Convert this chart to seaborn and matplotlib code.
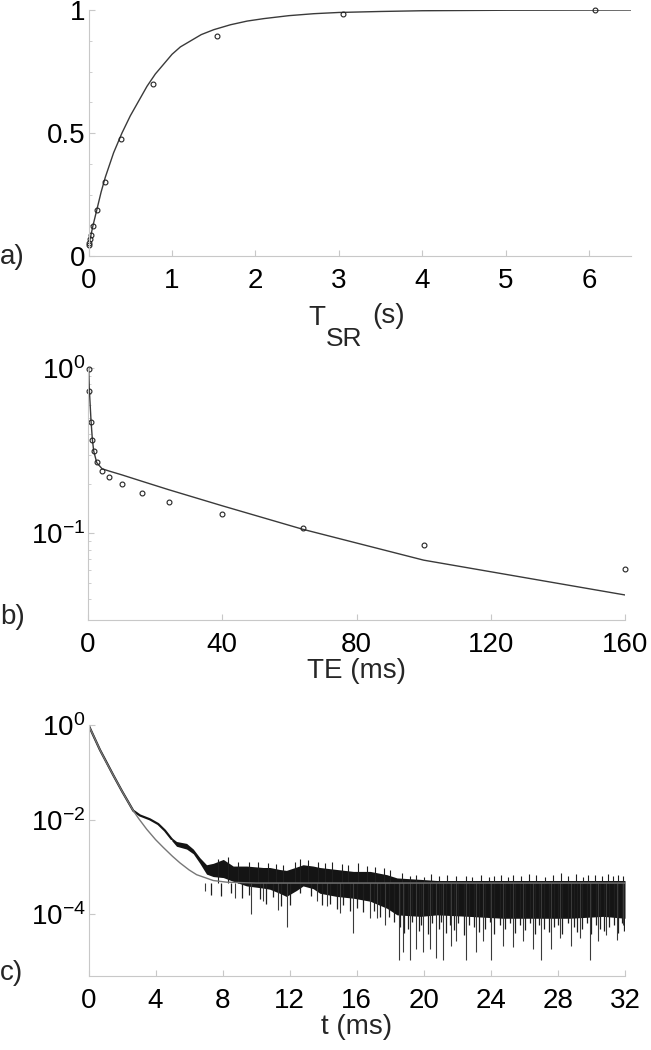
import numpy as np
import matplotlib
matplotlib.use("Agg")
import matplotlib.pyplot as plt
from matplotlib.ticker import MultipleLocator, LogLocator, NullFormatter, NullLocator, FixedLocator
import seaborn as sns

# ---------------- data ----------------
# panel a: saturation recovery
tsr_pts = [0.003, 0.006, 0.012, 0.024, 0.048, 0.096, 0.192, 0.384, 0.768, 1.536, 3.05, 6.07]
sig_a_pts = [0.045, 0.054, 0.068, 0.085, 0.122, 0.188, 0.30, 0.474, 0.698, 0.894, 0.985, 1.0]
tsr_fit = [0.0, 0.025, 0.05, 0.1, 0.15, 0.2, 0.3, 0.4, 0.5, 0.6, 0.7, 0.8, 0.9, 1.0, 1.1, 1.2, 1.35,
           1.5, 1.7, 1.9, 2.1, 2.4, 2.7, 3.0, 3.5, 4.0, 5.0, 6.5]
sig_a_fit = [0.04, 0.08, 0.12, 0.19, 0.26, 0.32, 0.42, 0.50, 0.57, 0.63, 0.69, 0.74, 0.78, 0.82, 0.85,
             0.87, 0.90, 0.92, 0.94, 0.955, 0.965, 0.977, 0.985, 0.99, 0.994, 0.997, 0.999, 1.0]

# panel b: echo decay
te_pts = [0.2, 0.4, 0.9, 1.3, 1.7, 2.6, 4.2, 6.4, 10.1, 16, 24, 40, 64, 100, 160]
sig_b_pts = [0.99, 0.73, 0.473, 0.365, 0.314, 0.269, 0.24, 0.219, 0.198, 0.175, 0.156, 0.132, 0.108, 0.085, 0.0614]
sig_b_fit = [1.0, 0.74, 0.48, 0.37, 0.315, 0.268, 0.246, 0.238, 0.226, 0.207, 0.184, 0.147, 0.106, 0.069, 0.0425]

# panel c: FID signal and fit
t_fit = [0.0, 0.3, 0.68, 1.0, 1.48, 2.0, 2.3, 2.67, 3.0, 3.47, 4.0, 4.46, 5.0, 5.45, 6.0, 6.45, 7.0, 7.44, 8.24, 10, 16, 24, 32]
c_fit = [1.0, 0.59, 0.30, 0.18, 0.087, 0.040, 0.026, 0.0155, 0.0105, 6.3e-3, 3.8e-3, 2.6e-3, 1.7e-3,
         1.23e-3, 8.7e-4, 6.9e-4, 5.9e-4, 5.2e-4, 4.8e-4, 4.6e-4, 4.6e-4, 4.6e-4, 4.6e-4]
t_sig = [0.0, 0.68, 1.48, 2.0, 2.67, 3.07, 3.66, 4.16, 4.56, 4.96]
c_sig = [1.0, 0.30, 0.087, 0.040, 0.0155, 0.0123, 0.0102, 8.1e-3, 5.9e-3, 3.9e-3]
t_band = [4.96, 5.25, 5.85, 6.25, 6.64, 7.04, 7.44, 8.04, 8.63, 9.43, 10.42, 10.82, 11.4, 11.8, 12.4, 12.8,
          13.4, 13.8, 14.8, 15.8, 16.8, 17.8, 18.4, 19.8, 20.8, 22.7, 24.7, 26.7, 28.7, 30.7, 32.0]
band_hi = [4.17e-3, 3.47e-3, 3.16e-3, 2.40e-3, 1.58e-3, 1.12e-3, 1.20e-3, 1.45e-3, 1.05e-3, 1.05e-3, 9.8e-4,
           9.8e-4, 8.9e-4, 8.5e-4, 1.0e-3, 1.12e-3, 1.05e-3, 9.8e-4, 8.9e-4, 8.1e-4, 8.1e-4, 6.9e-4, 5.9e-4,
           5.5e-4, 5.2e-4, 5.2e-4, 5.2e-4, 5.2e-4, 5.2e-4, 5.2e-4, 5.2e-4]
band_lo = [3.63e-3, 2.75e-3, 2.40e-3, 1.91e-3, 1.20e-3, 7.1e-4, 6.3e-4, 6.0e-4, 5.0e-4, 4.0e-4, 3.6e-4,
           3.4e-4, 2.8e-4, 2.4e-4, 3.2e-4, 4.0e-4, 3.5e-4, 2.8e-4, 2.4e-4, 2.2e-4, 1.9e-4, 1.35e-4, 9.8e-5,
           9.1e-5, 9.8e-5, 9.1e-5, 8.3e-5, 8.3e-5, 8.3e-5, 9.1e-5, 8.3e-5]
# deep downward noise spikes
t_spk_dn = [6.94, 8.73, 9.72, 10.42, 11.31, 11.81, 13.6, 14.2, 15.0, 15.8, 16.77, 17.2, 17.7,
            18.5, 18.76, 19.16, 19.56, 19.95, 20.35, 20.75, 21.15, 21.64, 21.94, 22.54, 23.14, 23.53,
            24.03, 24.72, 25.32, 25.91, 26.51, 27.0, 27.6, 28.1, 28.8, 29.3, 29.9, 30.4, 30.88, 31.5, 31.87]
c_spk_dn = [3.1e-4, 2.2e-4, 1.0e-4, 1.9e-4, 1.26e-4, 5.5e-5, 1.9e-4, 1.5e-4, 1.07e-4, 4.0e-5, 8.3e-5,
            8.3e-5, 6.0e-5, 1.07e-5, 1.6e-5, 1.07e-5, 1.9e-5, 1.6e-5, 1.9e-5, 1.2e-5, 1.07e-5, 2.2e-5,
            2.7e-5, 1.07e-5, 1.6e-5, 2.7e-5, 1.07e-5, 2.2e-5, 2.1e-5, 2.7e-5, 1.9e-5, 1.07e-5, 1.9e-5,
            3.2e-5, 2.2e-5, 3.2e-5, 1.07e-5, 2.7e-5, 3.7e-5, 2.9e-5, 6.0e-5]
# shallower downward noise spikes
t_spk_mid = [7.3, 7.9, 8.5, 9.15, 9.55, 10.2, 10.6, 11.0, 11.5, 12.0, 12.6, 13.3, 13.9, 14.4, 14.8, 15.2,
             15.6, 16.0, 16.4, 17.0, 17.4, 17.9, 18.2, 18.6, 18.8, 19.05, 19.3, 19.7, 19.85, 20.25, 20.5,
             20.9, 21.05, 21.3, 21.55, 21.8, 22.05, 22.4, 22.7, 23.0, 23.3, 23.65, 23.95, 24.2, 24.55,
             24.85, 25.15, 25.45, 25.75, 26.05, 26.35, 26.65, 26.9, 27.15, 27.45, 27.75, 28.0, 28.25,
             28.6, 28.95, 29.15, 29.45, 29.75, 30.0, 30.25, 30.5, 30.75, 31.05, 31.35, 31.6, 31.8, 31.95]
c_spk_mid = [2.6e-4, 2.4e-4, 2.9e-4, 2.2e-4, 2.6e-4, 2.1e-4, 1.7e-4, 2.3e-4, 1.5e-4, 1.6e-4, 2.8e-4,
             2.5e-4, 1.6e-4, 1.7e-4, 1.3e-4, 1.6e-4, 1.2e-4, 1.4e-4, 1.1e-4, 1.2e-4, 9e-5, 9e-5, 7e-5,
             5.5e-5, 4e-5, 5e-5, 7e-5, 4.5e-5, 6e-5, 3.8e-5, 6.5e-5, 5e-5, 7e-5, 4e-5, 6e-5, 4.8e-5,
             6.5e-5, 3.6e-5, 6e-5, 5.5e-5, 4.2e-5, 5e-5, 7e-5, 3.8e-5, 6e-5, 5e-5, 6.5e-5, 4e-5, 6e-5,
             4.8e-5, 6.5e-5, 3.8e-5, 6e-5, 5e-5, 4.2e-5, 5.5e-5, 6e-5, 3.9e-5, 6.5e-5, 5.5e-5, 4.3e-5, 5e-5,
             6.5e-5, 3.8e-5, 6e-5, 5e-5, 4.4e-5, 5.5e-5, 6e-5, 4e-5, 6.5e-5, 4.5e-5]
# upward noise spikes
t_spk_up = [7.7, 8.3, 8.9, 9.6, 10.1, 10.7, 11.2, 11.6, 12.3, 12.6, 13.1, 13.7, 14.1, 14.5, 15.1, 15.5,
            16.1, 16.6, 17.1, 17.6, 18.0, 18.7, 19.2, 19.56, 20.0, 20.4, 20.9, 21.4, 21.9, 22.5, 22.9,
            23.4, 23.9, 24.2, 24.6, 25.0, 25.3, 25.8, 26.3, 26.7, 27.2, 27.7, 28.2, 28.6, 29.1, 29.5,
            29.8, 30.2, 30.6, 31.0, 31.3, 31.6, 31.9]
c_spk_up = [1.5e-3, 1.6e-3, 1.3e-3, 1.25e-3, 1.3e-3, 1.2e-3, 1.15e-3, 1.1e-3, 1.3e-3, 1.45e-3, 1.4e-3,
            1.3e-3, 1.2e-3, 1.25e-3, 1.15e-3, 1.1e-3, 1.2e-3, 1.05e-3, 1.0e-3, 9.5e-4, 8.5e-4, 7.5e-4,
            6.5e-4, 6.9e-4, 6.2e-4, 7e-4, 6.4e-4, 6.8e-4, 6.6e-4, 6.5e-4, 6.2e-4, 6.8e-4, 6.3e-4, 6.4e-4,
            6.7e-4, 6.2e-4, 6.9e-4, 6.5e-4, 7.2e-4, 6.9e-4, 6.3e-4, 6.7e-4, 7.6e-4, 6.4e-4, 7e-4, 6.3e-4,
            6.9e-4, 6.8e-4, 6.4e-4, 7e-4, 6.5e-4, 6.9e-4, 6.6e-4]

# ---------------- style ----------------
sns.set_theme(style="white")
plt.rcParams["font.family"] = ["Liberation Sans", "DejaVu Sans"]
plt.rcParams.update({
    "mathtext.fontset": "custom",
    "mathtext.rm": "Liberation Sans",
    "mathtext.it": "Liberation Sans:italic",
    "mathtext.bf": "Liberation Sans:bold",
    "mathtext.default": "regular",
    "axes.edgecolor": "#c8c8c8",
    "axes.linewidth": 0.8,
    "xtick.color": "#c8c8c8",
    "ytick.color": "#c8c8c8",
    "xtick.labelcolor": "black",
    "ytick.labelcolor": "black",
    "xtick.direction": "in",
    "ytick.direction": "in",
    "xtick.bottom": True,
    "ytick.left": True,
})

FS = 20
LINE_C = "#3a3a3a"
W, H = 651, 1050
fig = plt.figure(figsize=(W / 100, H / 100), dpi=100)
axA = fig.add_axes([88.6 / W, 1 - 256 / H, (631 - 88.6) / W, 246 / H])
axB = fig.add_axes([88 / W, 1 - 620 / H, (625 - 88) / W, 252 / H])
axC = fig.add_axes([88.5 / W, 1 - 976 / H, (625 - 88.5) / W, 251 / H])

def style_axis(ax):
    sns.despine(ax=ax)
    ax.tick_params(axis="x", which="major", length=4, width=0.8, pad=9, labelsize=FS)
    ax.tick_params(axis="y", which="major", length=4, width=0.8, pad=2, labelsize=FS)
    ax.tick_params(which="minor", length=2.5, width=0.6)
    ax.grid(False)

# ---- panel a ----
sns.lineplot(x=tsr_fit, y=sig_a_fit, ax=axA, color=LINE_C, lw=1.0, estimator=None)
sns.lineplot(x=tsr_pts, y=sig_a_pts, ax=axA, marker="o", linestyle="", markersize=3.5,
             markerfacecolor="none", markeredgecolor="#222222", markeredgewidth=0.8,
             color="#222222", estimator=None, clip_on=False)
axA.set_xlim(0, 6.5)
axA.set_ylim(0, 1)
axA.set_xticks([0, 1, 2, 3, 4, 5, 6])
axA.set_xticklabels(["0", "1", "2", "3", "4", "5", "6"])
axA.set_yticks([0, 0.5, 1])
axA.set_yticklabels(["0", "0.5", "1"])
axA.yaxis.set_minor_locator(MultipleLocator(0.125))
style_axis(axA)
axA.set_xlabel("")
axA.set_ylabel("")
# x label T_SR (s) with a large subscript
fig.text(308 / W, 1 - 325 / H, "T", fontsize=FS, ha="left", va="baseline")
fig.text(326 / W, 1 - 346 / H, "SR", fontsize=19, ha="left", va="baseline")
fig.text(372 / W, 1 - 323 / H, "(s)", fontsize=FS, ha="left", va="baseline")

# ---- panel b ----
axB.set_yscale("log")
sns.lineplot(x=te_pts, y=sig_b_fit, ax=axB, color=LINE_C, lw=1.0, estimator=None)
sns.lineplot(x=te_pts, y=sig_b_pts, ax=axB, marker="o", linestyle="", markersize=3.5,
             markerfacecolor="none", markeredgecolor="#222222", markeredgewidth=0.8,
             color="#222222", estimator=None, clip_on=False)
axB.set_xlim(0, 160)
axB.set_ylim(0.03, 1)
axB.set_xticks([0, 40, 80, 120, 160])
axB.set_xticklabels(["0", "40", "80", "120", "160"])
axB.yaxis.set_major_locator(FixedLocator([0.1, 1]))
axB.set_yticklabels(["10$^{-1}$", "10$^{0}$"])
axB.yaxis.set_minor_locator(LogLocator(base=10, subs=[2, 3, 4, 5, 6, 7, 8, 9]))
axB.yaxis.set_minor_formatter(NullFormatter())
style_axis(axB)
axB.set_xlabel("TE (ms)", fontsize=FS, labelpad=0)
axB.set_ylabel("")

# ---- panel c ----
axC.set_yscale("log")
axC.fill_between(t_band, band_lo, band_hi, color="#141414", lw=0)
axC.vlines(t_spk_mid, c_spk_mid, 4.6e-4, color="#1e1e1e", lw=0.9)
axC.vlines(t_spk_dn, c_spk_dn, 4.6e-4, color="#3a3a3a", lw=0.8)
axC.vlines(t_spk_up, 4.6e-4, c_spk_up, color="#1e1e1e", lw=0.8)
sns.lineplot(x=t_sig, y=c_sig, ax=axC, color="#141414", lw=1.6, estimator=None)
sns.lineplot(x=t_fit, y=c_fit, ax=axC, color="#777777", lw=1.0, estimator=None)
axC.set_xlim(0, 32)
axC.set_ylim(10 ** -5.3, 1)
axC.set_xticks([0, 4, 8, 12, 16, 20, 24, 28, 32])
axC.set_xticklabels(["0", "4", "8", "12", "16", "20", "24", "28", "32"])
axC.yaxis.set_major_locator(FixedLocator([1e-4, 1e-2, 1]))
axC.set_yticklabels(["10$^{-4}$", "10$^{-2}$", "10$^{0}$"])
axC.yaxis.set_minor_locator(NullLocator())
style_axis(axC)
axC.set_xlabel("t (ms)", fontsize=FS, labelpad=0)
axC.set_ylabel("")

# panel labels
fig.text(0.0, 1 - 257 / H, "a)", fontsize=FS, ha="left", va="center")
fig.text(0.0, 1 - 617 / H, "b)", fontsize=FS, ha="left", va="center")
fig.text(0.0, 1 - 973 / H, "c)", fontsize=FS, ha="left", va="center")

fig.savefig("out.png", dpi=100)
